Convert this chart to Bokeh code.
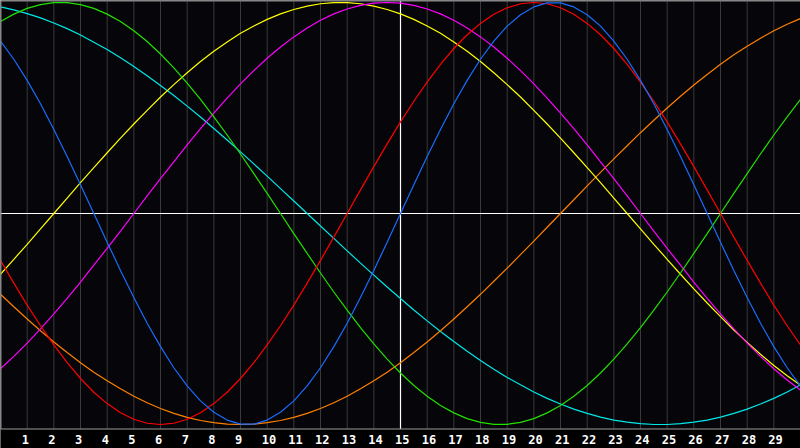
from bokeh.plotting import figure
from bokeh.models import Range1d
from bokeh.embed import file_html
from bokeh.resources import INLINE
from bokeh.core.properties import value

# sample positions (days, every half day) and day ticks
days = [i / 2 for i in range(61)]
tick_days = list(range(1, 30))
tick_labels = [str(d) for d in tick_days]
today = 15

# cycle values (-1 .. 1), one per half day
blue = [0.817, 0.731, 0.631, 0.520, 0.398, 0.270, 0.136, 0.000, -0.136, -0.270, -0.398, -0.520, -0.631, -0.731, -0.817, -0.888, -0.942, -0.979, -0.998, -0.998, -0.979, -0.942, -0.888, -0.817, -0.731, -0.631, -0.520, -0.398, -0.270, -0.136, 0.000, 0.136, 0.270, 0.398, 0.520, 0.631, 0.731, 0.817, 0.888, 0.942, 0.979, 0.998, 0.998, 0.979, 0.942, 0.888, 0.817, 0.731, 0.631, 0.520, 0.398, 0.270, 0.136, 0.000, -0.136, -0.270, -0.398, -0.520, -0.631, -0.731, -0.817]
red = [-0.222, -0.330, -0.434, -0.532, -0.623, -0.707, -0.782, -0.847, -0.901, -0.944, -0.975, -0.994, -1.000, -0.994, -0.975, -0.944, -0.901, -0.847, -0.782, -0.707, -0.623, -0.532, -0.434, -0.330, -0.222, -0.112, 0.000, 0.112, 0.222, 0.330, 0.434, 0.532, 0.623, 0.707, 0.782, 0.847, 0.901, 0.944, 0.975, 0.994, 1.000, 0.994, 0.975, 0.944, 0.901, 0.847, 0.782, 0.707, 0.623, 0.532, 0.434, 0.330, 0.222, 0.112, 0.000, -0.112, -0.222, -0.330, -0.434, -0.532, -0.623]
green = [0.910, 0.945, 0.972, 0.990, 0.999, 0.999, 0.990, 0.972, 0.945, 0.910, 0.866, 0.815, 0.756, 0.690, 0.618, 0.541, 0.458, 0.372, 0.282, 0.189, 0.095, 0.000, -0.095, -0.189, -0.282, -0.372, -0.458, -0.541, -0.618, -0.690, -0.756, -0.815, -0.866, -0.910, -0.945, -0.972, -0.990, -0.999, -0.999, -0.990, -0.972, -0.945, -0.910, -0.866, -0.815, -0.756, -0.690, -0.618, -0.541, -0.458, -0.372, -0.282, -0.189, -0.095, 0.000, 0.095, 0.189, 0.282, 0.372, 0.458, 0.541]
magenta = [-0.736, -0.677, -0.614, -0.547, -0.476, -0.402, -0.325, -0.245, -0.165, -0.083, 0.000, 0.083, 0.165, 0.245, 0.325, 0.402, 0.476, 0.547, 0.614, 0.677, 0.736, 0.789, 0.837, 0.879, 0.916, 0.946, 0.969, 0.986, 0.997, 1.000, 0.997, 0.986, 0.969, 0.946, 0.916, 0.879, 0.837, 0.789, 0.736, 0.677, 0.614, 0.547, 0.476, 0.402, 0.325, 0.245, 0.165, 0.083, 0.000, -0.083, -0.165, -0.245, -0.325, -0.402, -0.476, -0.547, -0.614, -0.677, -0.736, -0.789, -0.837]
yellow = [-0.288, -0.217, -0.146, -0.073, 0.000, 0.073, 0.146, 0.217, 0.288, 0.357, 0.424, 0.489, 0.552, 0.611, 0.667, 0.720, 0.769, 0.813, 0.854, 0.889, 0.920, 0.946, 0.967, 0.983, 0.994, 0.999, 0.999, 0.994, 0.983, 0.967, 0.946, 0.920, 0.889, 0.854, 0.813, 0.769, 0.720, 0.667, 0.611, 0.552, 0.489, 0.424, 0.357, 0.288, 0.217, 0.146, 0.073, 0.000, -0.073, -0.146, -0.217, -0.288, -0.357, -0.424, -0.489, -0.552, -0.611, -0.667, -0.720, -0.769, -0.813]
orange = [-0.383, -0.442, -0.500, -0.556, -0.609, -0.659, -0.707, -0.752, -0.793, -0.831, -0.866, -0.897, -0.924, -0.947, -0.966, -0.981, -0.991, -0.998, -1.000, -0.998, -0.991, -0.981, -0.966, -0.947, -0.924, -0.897, -0.866, -0.831, -0.793, -0.752, -0.707, -0.659, -0.609, -0.556, -0.500, -0.442, -0.383, -0.321, -0.259, -0.195, -0.131, -0.065, 0.000, 0.065, 0.131, 0.195, 0.259, 0.321, 0.383, 0.442, 0.500, 0.556, 0.609, 0.659, 0.707, 0.752, 0.793, 0.831, 0.866, 0.897, 0.924]
cyan = [0.979, 0.965, 0.947, 0.927, 0.903, 0.876, 0.846, 0.812, 0.777, 0.738, 0.697, 0.653, 0.607, 0.559, 0.509, 0.457, 0.403, 0.348, 0.292, 0.235, 0.177, 0.118, 0.059, -0.000, -0.059, -0.118, -0.177, -0.235, -0.292, -0.348, -0.403, -0.457, -0.509, -0.559, -0.607, -0.653, -0.697, -0.738, -0.777, -0.812, -0.846, -0.876, -0.903, -0.927, -0.947, -0.965, -0.979, -0.989, -0.996, -1.000, -1.000, -0.996, -0.989, -0.979, -0.965, -0.947, -0.927, -0.903, -0.876, -0.846, -0.812]

series = [cyan, orange, yellow, magenta, green, red, blue]
colors = ["#00e8e8", "#ff8000", "#ffff00", "#ff00ff", "#22e000", "#ff0000", "#1a6cff"]

CENTER_PX, AMP_PX, H, W = 213.0, 211.0, 448, 800
YT = CENTER_PX / AMP_PX
YB = (CENTER_PX - H) / AMP_PX
BORDER_V = (CENTER_PX - 428.5) / AMP_PX
LABEL_V = (CENTER_PX - 439) / AMP_PX

p = figure(width=W, height=H, output_backend="svg", toolbar_location=None,
           x_range=Range1d(0, 30), y_range=Range1d(YB, YT),
           x_axis_type=None, y_axis_type=None, min_border=0,
           background_fill_color="#06060a", border_fill_color="#000000",
           outline_line_color=None)
p.grid.visible = False

p.quad(left=[0], right=[30], bottom=[YB], top=[BORDER_V], fill_color="#000000", line_color=None)
p.segment(x0=tick_days, x1=tick_days, y0=[BORDER_V] * len(tick_days), y1=[YT] * len(tick_days),
          line_color="#3a3a3a", line_width=1)
p.segment(x0=[today], x1=[today], y0=[BORDER_V], y1=[YT], line_color="#ffffff", line_width=1.2)
p.segment(x0=[0], x1=[30], y0=[0], y1=[0], line_color="#ffffff", line_width=1.2)

for vals, c in zip(series, colors):
    p.line(days, vals, line_color=c, line_width=1.2)

p.segment(x0=[0], x1=[0], y0=[BORDER_V], y1=[YT], line_color="#8a8a8a", line_width=2)
p.segment(x0=[0], x1=[30], y0=[YT], y1=[YT], line_color="#8a8a8a", line_width=2)
p.segment(x0=[0], x1=[30], y0=[BORDER_V], y1=[BORDER_V], line_color="#9a9a9a", line_width=1.2)

p.text(x=tick_days, y=[LABEL_V] * len(tick_days), text=tick_labels, text_color="#ffffff",
       text_font=value("DejaVu Sans Mono"), text_font_style="bold", text_font_size="12px",
       text_align="left", text_baseline="middle", x_offset=-5.5)

open("out.html", "w").write(file_html(p, INLINE))
